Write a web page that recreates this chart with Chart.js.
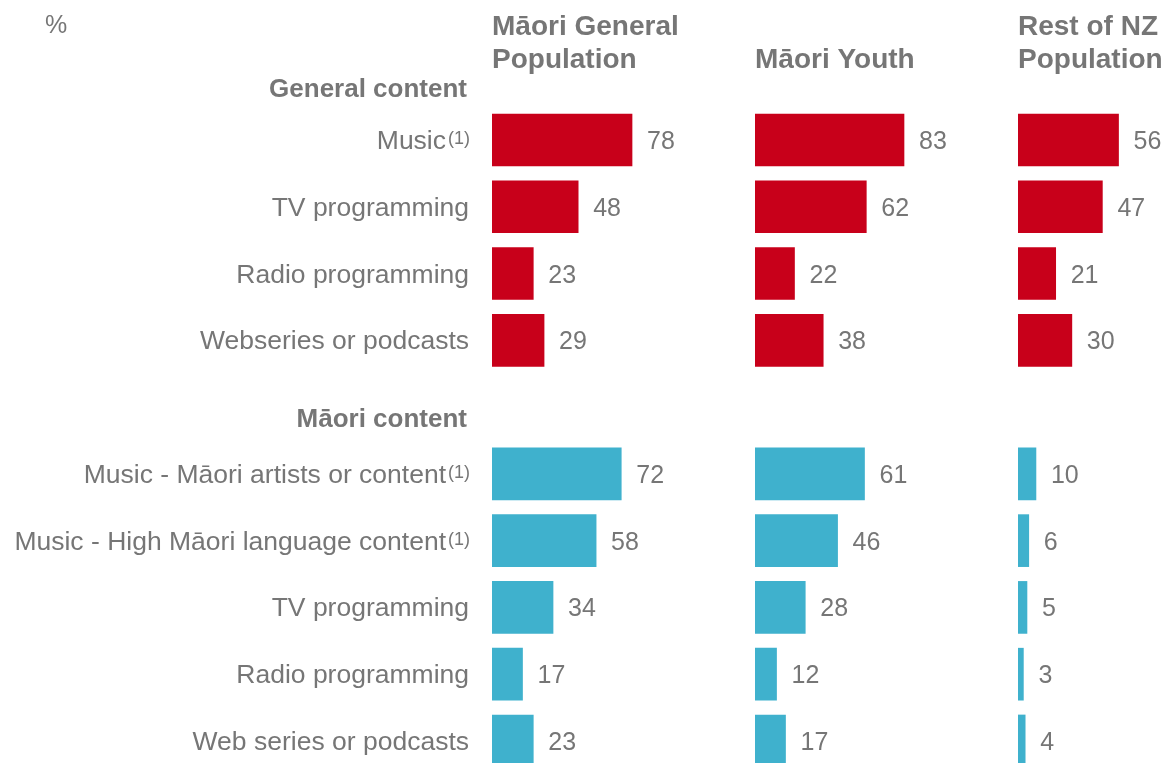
<!DOCTYPE html>
<html>
<head>
<meta charset="utf-8">
<script src="https://cdn.jsdelivr.net/npm/chart.js@4"></script>
<style>
  html, body { margin: 0; padding: 0; background: #ffffff; overflow: hidden; }
  #wrap { position: relative; width: 1168px; height: 763px; }
  #wrap canvas { position: absolute; top: 0; }
</style>
</head>
<body>
<div id="wrap">
  <canvas id="panel-general" width="755" height="763" style="left:0"></canvas>
  <canvas id="panel-youth" width="263" height="763" style="left:755px"></canvas>
  <canvas id="panel-rest" width="263" height="763" style="left:1018px"></canvas>
</div>
<script>
// Rows of the chart, top to bottom
const rowLabels = [
    'Music', 'TV programming', 'Radio programming', 'Webseries or podcasts',
    'Music - Māori artists or content', 'Music - High Māori language content',
    'TV programming', 'Radio programming', 'Web series or podcasts'
];
const rowNotes = ['(1)', '', '', '', '(1)', '(1)', '', '', ''];
const rowGroups = ['general', 'general', 'general', 'general', 'maori', 'maori', 'maori', 'maori', 'maori'];
// slot on the y scale for each row (section headings sit in the gaps)
const rowSlots = [1, 2, 3, 4, 6, 7, 8, 9, 10];
const sectionLabels = ['General content', 'Māori content'];
const sectionSlots = [0.22, 5.16];

const panelTitles = [['Māori General', 'Population'], ['Māori Youth'], ['Rest of NZ', 'Population']];

// % of each population
const maoriGeneral = [78, 48, 23, 29, 72, 58, 34, 17, 23];
const maoriYouth = [83, 62, 22, 38, 61, 46, 28, 12, 17];
const restOfNz = [56, 47, 21, 30, 10, 6, 5, 3, 4];

const RED = '#c8001a';
const BLUE = '#3fb1cd';
const GREY = '#767676';
const FONT = '"Liberation Sans", Arial, sans-serif';

const X_MAX = 146.5;
const Y_MIN = -1.096;
const Y_MAX = 10.33;

/**
 * Number drawn just past the end of each bar
 */
const valueLabels = {
    id: 'valueLabels',
    afterDatasetsDraw(chart) {
        const { ctx } = chart;
        const meta = chart.getDatasetMeta(0);
        const values = chart.data.datasets[0].data;
        ctx.save();
        ctx.font = `25px ${FONT}`;
        ctx.fillStyle = GREY;
        ctx.textAlign = 'left';
        ctx.textBaseline = 'alphabetic';
        meta.data.forEach((bar, i) => {
            ctx.fillText(values[i].x, bar.x + 15, bar.y + 9);
        });
        ctx.restore();
    }
};

/**
 * Bold heading above each panel, last line on a common baseline
 */
function panelTitle(lines) {
    return {
        id: 'panelTitle',
        afterDraw(chart) {
            const { ctx, chartArea } = chart;
            ctx.save();
            ctx.font = `bold 28px ${FONT}`;
            ctx.fillStyle = GREY;
            ctx.textAlign = 'left';
            ctx.textBaseline = 'alphabetic';
            lines.forEach((line, i) => {
                const y = 68 - (lines.length - 1 - i) * 33;
                ctx.fillText(line, chartArea.left, y);
            });
            ctx.restore();
        }
    };
}

/**
 * Row labels, section headings and the unit marker, drawn left of the first panel
 */
const rowLabelsPlugin = {
    id: 'rowLabels',
    afterDraw(chart) {
        const { ctx, chartArea } = chart;
        const yScale = chart.scales.y;
        const right = chartArea.left - 23;
        ctx.save();
        ctx.fillStyle = GREY;
        ctx.textBaseline = 'alphabetic';

        ctx.font = `25px ${FONT}`;
        ctx.textAlign = 'left';
        ctx.fillText('%', 45, 33);

        ctx.textAlign = 'right';
        ctx.font = `bold 26px ${FONT}`;
        sectionLabels.forEach((label, i) => {
            ctx.fillText(label, right - 2, yScale.getPixelForValue(sectionSlots[i]) + 9);
        });

        rowLabels.forEach((label, i) => {
            const y = yScale.getPixelForValue(rowSlots[i]) + 9;
            let x = right;
            if (rowNotes[i]) {
                ctx.font = `18px ${FONT}`;
                ctx.fillText(rowNotes[i], x + 1, y - 5);
                x -= ctx.measureText(rowNotes[i]).width + 1;
            }
            ctx.font = `26.5px ${FONT}`;
            ctx.fillText(label, x, y);
        });
        ctx.restore();
    }
};

function makePanel(canvasId, values, title, withLabels) {
    const el = document.getElementById(canvasId);
    const plugins = [valueLabels, panelTitle(title)];
    if (withLabels) plugins.push(rowLabelsPlugin);
    return new Chart(el, {
        type: 'bar',
        data: {
            datasets: [{
                data: values.map((v, i) => ({ x: v, y: rowSlots[i] })),
                backgroundColor: rowGroups.map(g => g === 'general' ? RED : BLUE),
                borderWidth: 0,
                barThickness: 52
            }]
        },
        plugins,
        options: {
            indexAxis: 'y',
            responsive: false,
            animation: false,
            layout: { padding: { left: withLabels ? 492 : 0, right: 0, top: 0, bottom: 0 } },
            scales: {
                x: { type: 'linear', min: 0, max: X_MAX, display: false },
                y: { type: 'linear', min: Y_MIN, max: Y_MAX, reverse: true, offset: false, display: false }
            },
            plugins: {
                legend: { display: false },
                tooltip: { enabled: false }
            }
        }
    });
}

makePanel('panel-general', maoriGeneral, panelTitles[0], true);
makePanel('panel-youth', maoriYouth, panelTitles[1], false);
makePanel('panel-rest', restOfNz, panelTitles[2], false);
</script>
</body>
</html>
